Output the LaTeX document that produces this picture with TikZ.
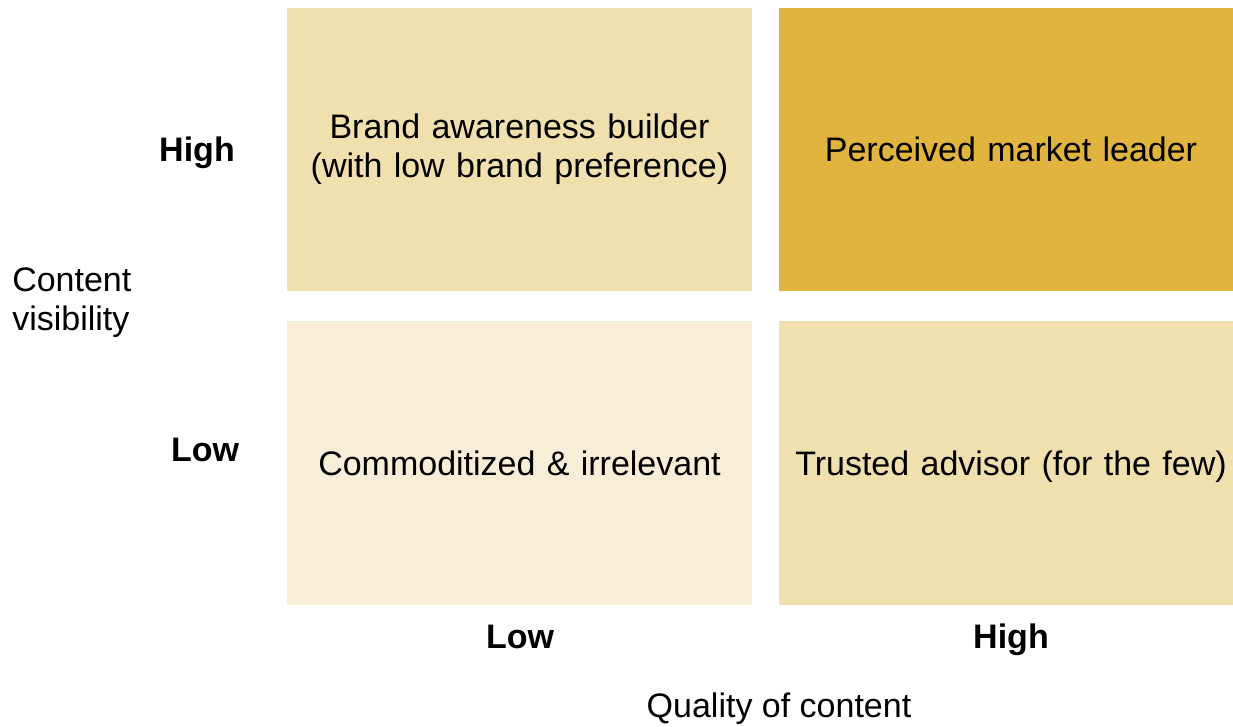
\documentclass[tikz,border=0pt]{standalone}
\usepackage{fontspec}
\setmainfont{Liberation Sans}
\definecolor{goldpale}{HTML}{F8EDD6}
\definecolor{goldlight}{HTML}{F0E0AE}
\definecolor{golddark}{HTML}{E0B43E}
\newcommand{\labelsize}{\fontsize{25.5}{29.3}\selectfont}
\tikzset{
  cell/.style={inner sep=0pt,align=center,text width=340pt,
    font=\labelsize,minimum width=348.75pt,minimum height=212.5pt},
  onecell/.style={cell,text depth=0pt},
  axislabel/.style={inner sep=0pt,anchor=base,font=\labelsize\bfseries},
  axistitle/.style={inner sep=0pt,font=\labelsize},
}
\begin{document}
\begin{tikzpicture}[x=0.75pt,y=-0.75pt]
        \useasboundingbox (0,0) rectangle (1233,727);
        % four quadrants
        \node[cell,fill=goldlight] (awareness) at (519.5,149.5) {Brand awareness builder\\(with low brand preference)};
        \node[onecell,fill=golddark] (leader) at (1011,149.5) {Perceived market leader};
        \node[onecell,fill=goldpale] (commodity) at (519.5,463) {Commoditized \& irrelevant};
        \node[onecell,fill=goldlight] (advisor) at (1011,463) {Trusted advisor (for the few)};
        % row labels
        \node[axislabel] (rowhigh) at (197,162) {High};
        \node[axislabel] (rowlow) at (205,462) {Low};
        \node[axistitle,align=left,anchor=west] (yaxis) at (12,303) {Content\\visibility};
        % column labels
        \node[axislabel] (collow) at (520,648) {Low};
        \node[axislabel] (colhigh) at (1011,648) {High};
        \node[axistitle] (xaxis) at (779,709) {Quality of content};
    \end{tikzpicture}
\end{document}
